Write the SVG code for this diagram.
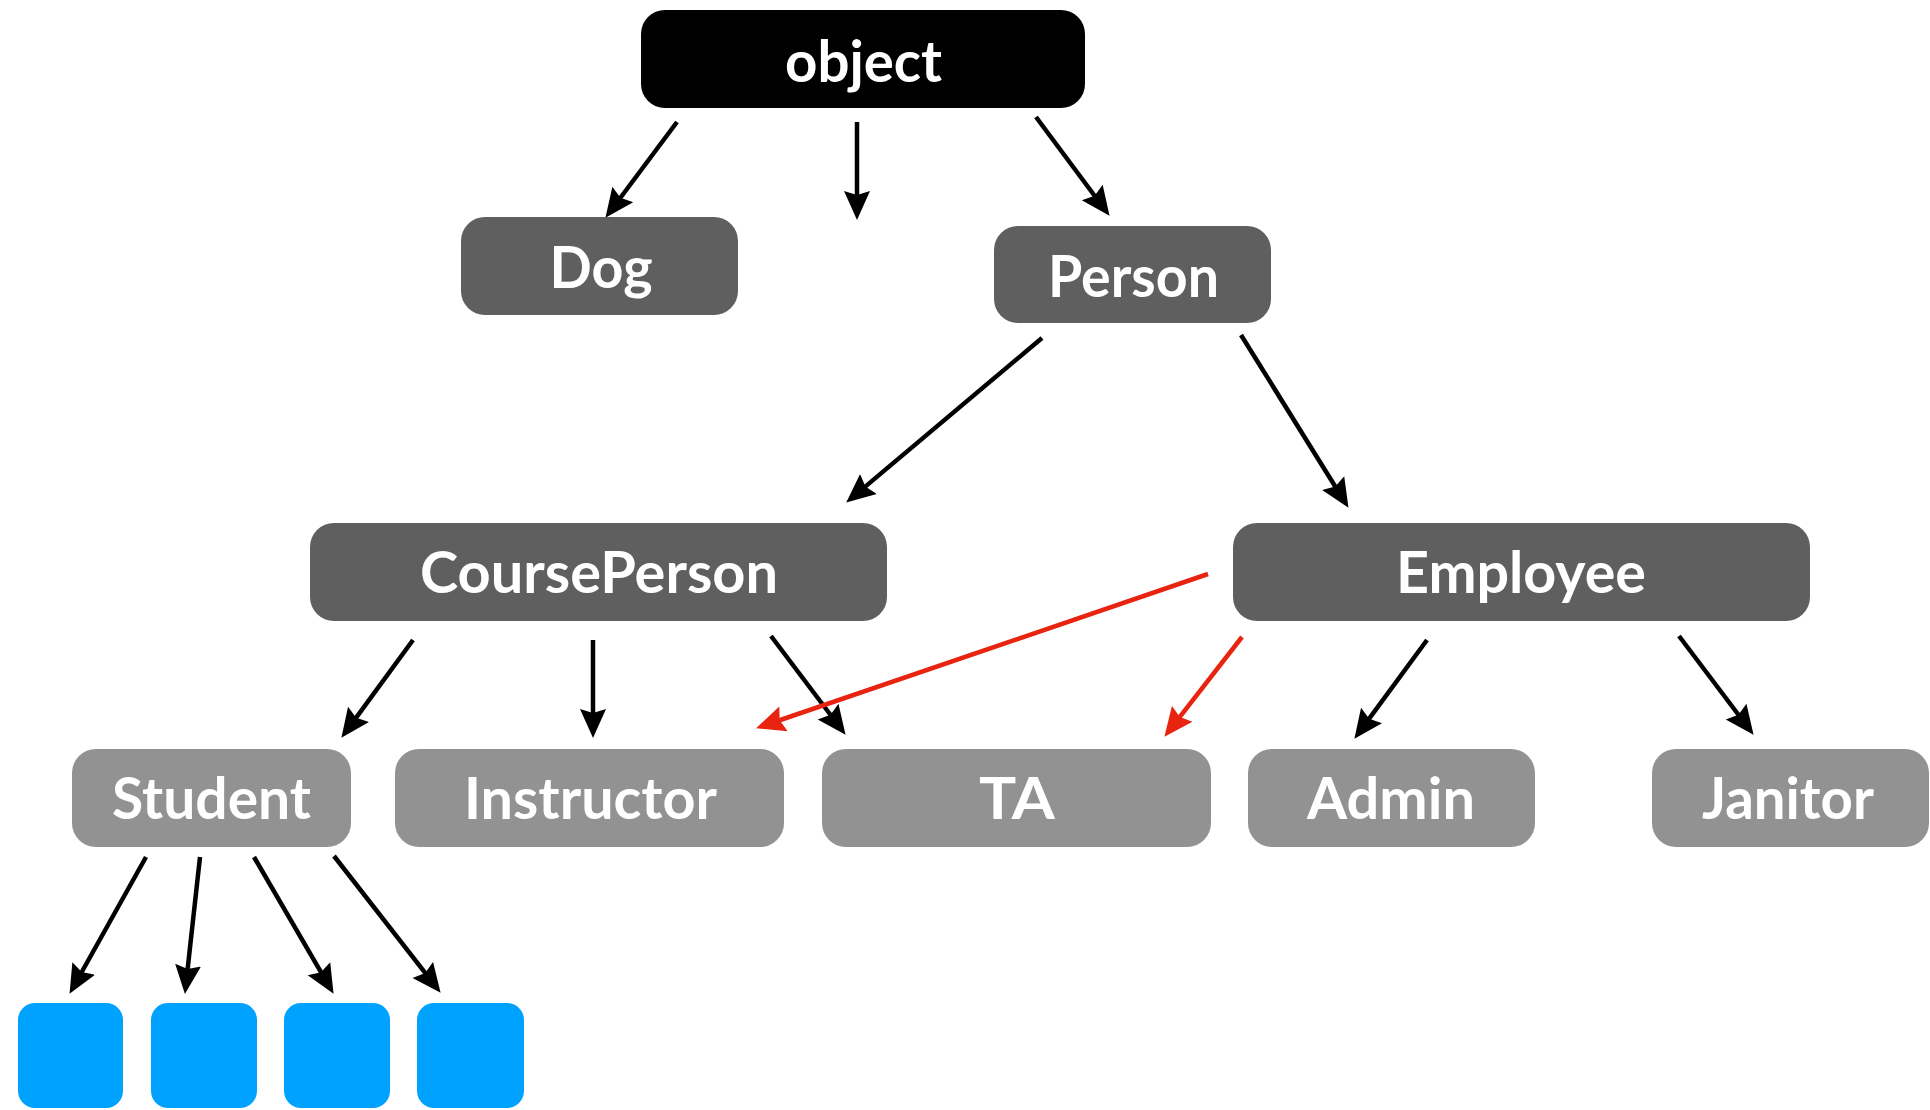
<svg xmlns="http://www.w3.org/2000/svg" width="1930" height="1110" viewBox="0 0 1930 1110">
<defs>
<style>
.box{stroke:none}
.root{fill:#000000}
.mid{fill:#5f5f5f}
.leaf{fill:#929292}
.inst{fill:#00a2ff}
.lbl{font-family:Lato,"Open Sans","Liberation Sans",sans-serif;font-weight:bold;font-size:58px;fill:#ffffff;text-anchor:middle}
.edge{stroke:#000000;stroke-width:4.5;fill:none}
.edge.red{stroke:#e8230f;stroke-width:4.5}
</style>
<marker id="ah" markerUnits="userSpaceOnUse" markerWidth="32" markerHeight="28" viewBox="0 0 32 28" refX="8" refY="14" orient="auto">
<path d="M0,1 L29,14 L0,27 L4,14 z" fill="#000000"/>
</marker>
<marker id="ahr" markerUnits="userSpaceOnUse" markerWidth="32" markerHeight="28" viewBox="0 0 32 28" refX="8" refY="14" orient="auto">
<path d="M0,1 L29,14 L0,27 L4,14 z" fill="#e8230f"/>
</marker>
</defs>
<rect width="1930" height="1110" fill="#ffffff"/>
<g id="connectors">
<line class="edge" x1="677" y1="122" x2="618" y2="201" marker-end="url(#ah)"/>
<line class="edge" x1="857" y1="122" x2="857" y2="199" marker-end="url(#ah)"/>
<line class="edge" x1="1036" y1="117" x2="1097" y2="199" marker-end="url(#ah)"/>
<line class="edge" x1="1042" y1="338" x2="862.3" y2="489.1" marker-end="url(#ah)"/>
<line class="edge" x1="1241" y1="335" x2="1337.4" y2="490" marker-end="url(#ah)"/>
<line class="edge" x1="413" y1="640" x2="353.8" y2="720.9" marker-end="url(#ah)"/>
<line class="edge" x1="593" y1="640" x2="593" y2="717" marker-end="url(#ah)"/>
<line class="edge" x1="771" y1="636" x2="832.9" y2="718" marker-end="url(#ah)"/>
<line class="edge red" x1="1208" y1="574" x2="775.9" y2="721.5" marker-end="url(#ahr)"/>
<line class="edge red" x1="1242" y1="637" x2="1177.3" y2="720.2" marker-end="url(#ahr)"/>
<line class="edge" x1="1427" y1="640" x2="1366.8" y2="721.9" marker-end="url(#ah)"/>
<line class="edge" x1="1679" y1="636" x2="1740.9" y2="718" marker-end="url(#ah)"/>
<line class="edge" x1="146" y1="857" x2="79.8" y2="975.5" marker-end="url(#ah)"/>
<line class="edge" x1="200" y1="857" x2="187.2" y2="973.1" marker-end="url(#ah)"/>
<line class="edge" x1="254" y1="857" x2="323" y2="975.7" marker-end="url(#ah)"/>
<line class="edge" x1="334" y1="856" x2="427.7" y2="976.2" marker-end="url(#ah)"/>
</g>
<g id="node-object"><rect class="box root" x="641" y="10" width="444" height="98" rx="24"/><text class="lbl" x="863.5" y="81.5" textLength="157" lengthAdjust="spacingAndGlyphs">object</text></g>
<g id="node-dog"><rect class="box mid" x="461" y="217" width="277" height="98" rx="24"/><text class="lbl" x="601" y="288" textLength="103" lengthAdjust="spacingAndGlyphs">Dog</text></g>
<g id="node-person"><rect class="box mid" x="994" y="226" width="277" height="97" rx="24"/><text class="lbl" x="1133.5" y="297" textLength="171" lengthAdjust="spacingAndGlyphs">Person</text></g>
<g id="node-courseperson"><rect class="box mid" x="310" y="523" width="577" height="98" rx="24"/><text class="lbl" x="599" y="593" textLength="358" lengthAdjust="spacingAndGlyphs">CoursePerson</text></g>
<g id="node-employee"><rect class="box mid" x="1233" y="523" width="577" height="98" rx="24"/><text class="lbl" x="1521" y="593" textLength="250" lengthAdjust="spacingAndGlyphs">Employee</text></g>
<g id="node-student"><rect class="box leaf" x="72" y="749" width="279" height="98" rx="24"/><text class="lbl" x="211.5" y="819" textLength="199" lengthAdjust="spacingAndGlyphs">Student</text></g>
<g id="node-instructor"><rect class="box leaf" x="395" y="749" width="389" height="98" rx="24"/><text class="lbl" x="590.5" y="819" textLength="253" lengthAdjust="spacingAndGlyphs">Instructor</text></g>
<g id="node-ta"><rect class="box leaf" x="822" y="749" width="389" height="98" rx="24"/><text class="lbl" x="1017" y="819" textLength="76" lengthAdjust="spacingAndGlyphs">TA</text></g>
<g id="node-admin"><rect class="box leaf" x="1248" y="749" width="287" height="98" rx="24"/><text class="lbl" x="1391" y="819" textLength="168" lengthAdjust="spacingAndGlyphs">Admin</text></g>
<g id="node-janitor"><rect class="box leaf" x="1652" y="749" width="277" height="98" rx="24"/><text class="lbl" x="1788" y="819" textLength="172" lengthAdjust="spacingAndGlyphs">Janitor</text></g>
<g id="node-inst1"><rect class="box inst" x="18" y="1003" width="105" height="105" rx="17"/></g>
<g id="node-inst2"><rect class="box inst" x="151" y="1003" width="106" height="105" rx="17"/></g>
<g id="node-inst3"><rect class="box inst" x="284" y="1003" width="106" height="105" rx="17"/></g>
<g id="node-inst4"><rect class="box inst" x="417" y="1003" width="107" height="105" rx="17"/></g>
</svg>
